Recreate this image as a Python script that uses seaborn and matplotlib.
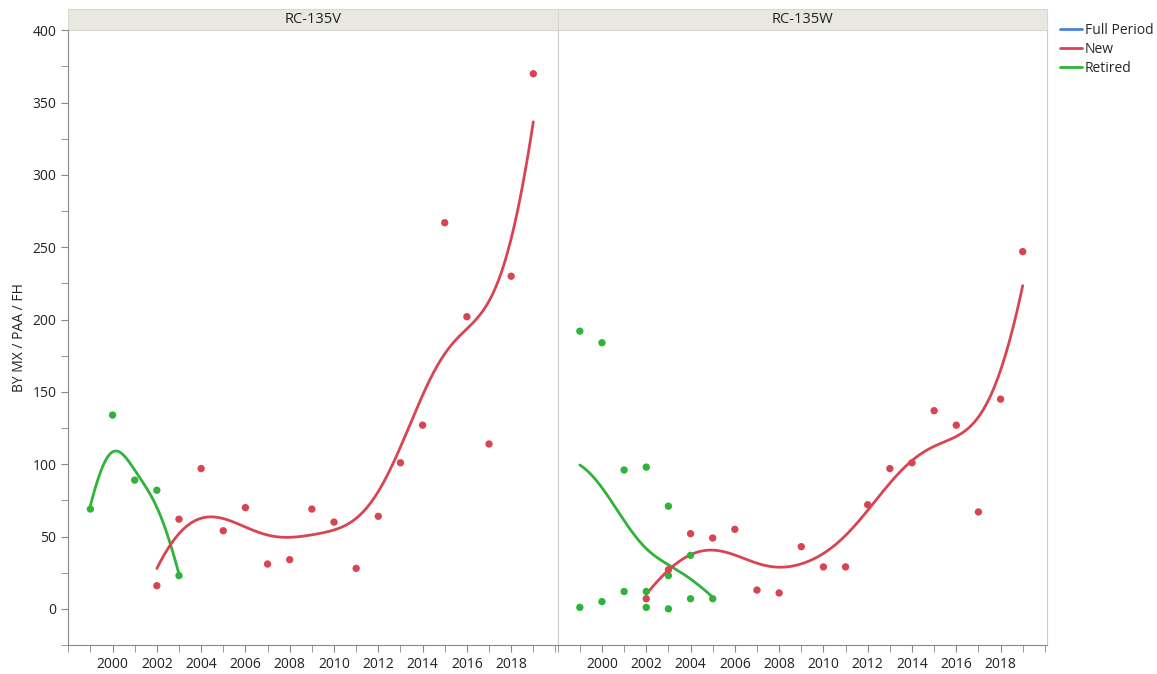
import numpy as np
import pandas as pd
import matplotlib
matplotlib.use("Agg")
import matplotlib.pyplot as plt
import seaborn as sns
from matplotlib.ticker import MultipleLocator
from matplotlib.patches import Rectangle
from matplotlib.lines import Line2D

panels = ["RC-135V", "RC-135W"]
v_ret_years = [1999, 2000, 2001, 2002, 2003]
v_ret_vals = [69, 134, 89, 82, 23]
v_new_years = list(range(2002, 2020))
v_new_vals = [16, 62, 97, 54, 70, 31, 34, 69, 60, 28, 64, 101, 127, 267, 202, 114, 230, 370]
w_ret_years = [1999, 1999, 2000, 2000, 2001, 2001, 2002, 2002, 2002, 2003, 2003, 2003, 2004, 2004, 2005]
w_ret_vals = [192, 1, 184, 5, 96, 12, 98, 12, 1, 71, 23, 0, 37, 7, 7]
w_new_years = list(range(2002, 2020))
w_new_vals = [7, 27, 52, 49, 55, 13, 11, 43, 29, 29, 72, 97, 101, 137, 127, 67, 145, 247]

RED = "#d94452"
GREEN = "#2fb33a"
BLUE = "#4a7fe0"

sns.set_style("white")
plt.rcParams['font.family'] = ['Open Sans', 'DejaVu Sans']

fig, axes = plt.subplots(1, 2, figsize=(11.57, 6.74), dpi=100, sharey=True)
fig.subplots_adjust(left=0.059, right=0.905, top=0.955, bottom=0.043, wspace=0)

def smooth(x, y, bw):
    x = np.asarray(x, float); y = np.asarray(y, float)
    xs = np.linspace(x.min(), x.max(), 200)
    out = []
    for x0 in xs:
        w = np.exp(-0.5 * ((x - x0) / bw) ** 2)
        W = np.sum(w); mx = np.sum(w * x) / W; my = np.sum(w * y) / W
        b = np.sum(w * (x - mx) * (y - my)) / np.sum(w * (x - mx) ** 2)
        out.append(my + b * (x0 - mx))
    return xs, np.array(out)

data = [((v_ret_years, v_ret_vals, 0.75), (v_new_years, v_new_vals, 1.6)),
        ((w_ret_years, w_ret_vals, 1.0), (w_new_years, w_new_vals, 1.6))]

for ax, name, ((ry, rv, rb), (ny, nv, nb)) in zip(axes, panels, data):
    sns.scatterplot(x=ry, y=rv, ax=ax, color=GREEN, s=28, edgecolor="none", zorder=3)
    sns.scatterplot(x=ny, y=nv, ax=ax, color=RED, s=28, edgecolor="none", zorder=3)
    xs, ys = smooth(ry, rv, rb)
    sns.lineplot(x=xs, y=ys, ax=ax, color=GREEN, lw=2, zorder=2)
    xs, ys = smooth(ny, nv, nb)
    sns.lineplot(x=xs, y=ys, ax=ax, color=RED, lw=2, zorder=2)
    ax.set_xlim(1998, 2020.1)
    ax.set_ylim(-25, 400)
    ax.set_xticks(range(2000, 2020, 2))
    ax.xaxis.set_minor_locator(MultipleLocator(1))
    ax.yaxis.set_major_locator(MultipleLocator(50))
    ax.yaxis.set_minor_locator(MultipleLocator(25))
    ax.tick_params(axis="both", which="both", direction="out", length=5, color="#888888", labelsize=10, labelcolor="#222222")
    ax.tick_params(which="both", bottom=True)
    for s in ax.spines.values():
        s.set_color("#cccccc")
    ax.spines["bottom"].set_color("#888888")
    ax.spines["top"].set_visible(False)
    ax.add_patch(Rectangle((0, 1.0), 1, 0.035, transform=ax.transAxes, clip_on=False,
                           facecolor="#e8e8e0", edgecolor="#d8d8d0", lw=0.8))
    ax.text(0.5, 1.0175, name, transform=ax.transAxes, ha="center", va="center",
            fontsize=10.5, color="#222222")

axes[0].tick_params(axis="y", left=True, which="both")
axes[0].spines["left"].set_color("#888888")
axes[1].tick_params(axis="y", left=False, which="both")
axes[0].set_ylabel("BY MX / PAA / FH", fontsize=10, color="#222222")

handles = [Line2D([], [], color=BLUE, lw=2), Line2D([], [], color=RED, lw=2), Line2D([], [], color=GREEN, lw=2)]
fig.legend(handles, ["Full Period", "New", "Retired"], loc="upper left", bbox_to_anchor=(0.905, 0.985),
           frameon=False, fontsize=10, handlelength=1.6, handletextpad=0.2, labelspacing=0.3)

fig.savefig("out.png", dpi=100)
